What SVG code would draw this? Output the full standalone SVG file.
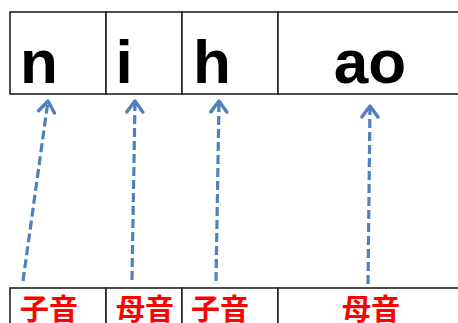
<svg xmlns="http://www.w3.org/2000/svg" width="458" height="323" viewBox="0 0 458 323">
<style>
.cell{fill:#fff;stroke:#222;stroke-width:1.6}
.big{font-family:"Liberation Sans",Arial,sans-serif;font-weight:bold;font-size:62px;fill:#000;text-anchor:middle}
.lab{font-family:"Noto Sans CJK JP","Noto Sans CJK SC",sans-serif;font-weight:bold;font-size:29px;fill:#ff0000;text-anchor:middle}
.conn{stroke:#4F81BD;stroke-width:3.2;stroke-dasharray:9 4;fill:none;marker-end:url(#ah)}
</style>
<defs>
<marker id="ah" markerUnits="userSpaceOnUse" viewBox="-13 -11 15 22" refX="0" refY="0" markerWidth="15" markerHeight="22" orient="auto">
<path d="M-11,-8 L0,0 L-11,8" fill="none" stroke="#4F81BD" stroke-width="3.4" stroke-linecap="round" stroke-linejoin="round"/>
</marker>
</defs>
<rect width="458" height="323" fill="#fff"/>
<g id="top-n"><rect class="cell" x="10" y="12" width="96" height="82"/><text class="big" x="39" y="83">n</text></g>
<g id="top-i"><rect class="cell" x="106" y="12" width="76" height="82"/><text class="big" x="124" y="83">i</text></g>
<g id="top-h"><rect class="cell" x="182" y="12" width="96" height="82"/><text class="big" x="212" y="83">h</text></g>
<g id="top-ao"><rect class="cell" x="278" y="12" width="200" height="82"/><text class="big" x="370" y="83">ao</text></g>
<g id="bot-1"><rect class="cell" x="10" y="288" width="96" height="50"/><text class="lab" x="49" y="320">子音</text></g>
<g id="bot-2"><rect class="cell" x="106" y="288" width="76" height="50"/><text class="lab" x="145" y="320">母音</text></g>
<g id="bot-3"><rect class="cell" x="182" y="288" width="96" height="50"/><text class="lab" x="220" y="320">子音</text></g>
<g id="bot-4"><rect class="cell" x="278" y="288" width="200" height="50"/><text class="lab" x="371" y="320">母音</text></g>
<g id="connectors">
<line class="conn" x1="23" y1="281" x2="48" y2="101"/>
<line class="conn" x1="132" y1="280" x2="135" y2="101"/>
<line class="conn" x1="216" y1="281" x2="219" y2="101"/>
<line class="conn" x1="368" y1="284" x2="370" y2="106"/>
</g>
</svg>
